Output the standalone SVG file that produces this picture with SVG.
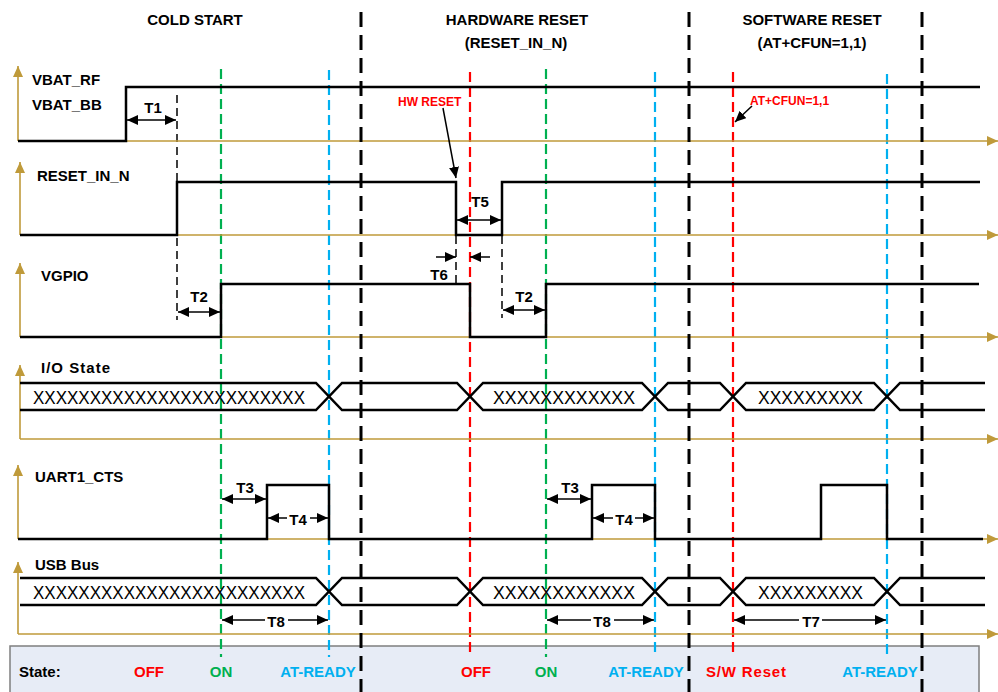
<svg xmlns="http://www.w3.org/2000/svg" width="998" height="692" viewBox="0 0 998 692">
<style>
text{font-family:"Liberation Sans",Arial,sans-serif}
.b{font-weight:bold;font-size:15px;fill:#000}
.c{text-anchor:middle}
.red{fill:#FF0000}
.grn{fill:#00B050}
.blu{fill:#00B0F0}
.sig{fill:none;stroke:#000;stroke-width:2.5}
.ax{fill:none;stroke:#BF9A3A;stroke-width:1.6}
.div{stroke:#000;stroke-width:3;stroke-dasharray:15 8;fill:none}
.gd{stroke:#00B050;stroke-width:2.2;stroke-dasharray:10 5}
.bd{stroke:#00B0F0;stroke-width:2.2;stroke-dasharray:10 5}
.rd{stroke:#FF0000;stroke-width:2.2;stroke-dasharray:10 5}
.kd{stroke:#000;stroke-width:1.5;stroke-dasharray:8 5}
.dim{stroke:#000;stroke-width:1.5;fill:none}
.xx{font-size:19px;fill:#000}
.sm{font-weight:bold;font-size:12px;fill:#FF0000}
</style>
<defs>
<marker id="ah" viewBox="0 0 11 10" refX="11" refY="5" markerWidth="11" markerHeight="10" markerUnits="userSpaceOnUse" orient="auto-start-reverse"><path d="M0,0L11,5L0,10z" fill="#000"/></marker>
<marker id="ga" viewBox="0 0 11 10" refX="11" refY="5" markerWidth="11" markerHeight="10" markerUnits="userSpaceOnUse" orient="auto"><path d="M0,0L11,5L0,10z" fill="#BF9A3A"/></marker>
</defs>
<rect width="998" height="692" fill="#fff"/>

<g id="state-bar">
<rect x="10" y="646" width="969" height="50" fill="#E7ECF6" stroke="#7F7F7F" stroke-width="1.5"/>
<text class="b" x="19" y="677">State:</text>
<text class="b c red" x="149" y="677">OFF</text>
<text class="b c grn" x="221" y="677">ON</text>
<text class="b c blu" x="318" y="677">AT-READY</text>
<text class="b c red" x="476" y="677">OFF</text>
<text class="b c grn" x="546" y="677">ON</text>
<text class="b c blu" x="646" y="677">AT-READY</text>
<text class="b c red" x="746" y="677" textLength="80">S/W Reset</text>
<text class="b c blu" x="880" y="677">AT-READY</text>
</g>

<g id="titles">
<text class="b c" x="195" y="25">COLD START</text>
<text class="b c" x="517" y="25">HARDWARE RESET</text>
<text class="b c" x="516" y="48">(RESET_IN_N)</text>
<text class="b c" x="812" y="25">SOFTWARE RESET</text>
<text class="b c" x="812" y="48">(AT+CFUN=1,1)</text>
</g>

<g id="guides">
<line class="gd" x1="221" y1="69" x2="221" y2="657"/>
<line class="bd" x1="329" y1="70" x2="329" y2="657"/>
<line class="rd" x1="470" y1="72" x2="470" y2="657"/>
<line class="gd" x1="546" y1="69" x2="546" y2="657"/>
<line class="bd" x1="655" y1="72" x2="655" y2="657"/>
<line class="rd" x1="733" y1="72" x2="733" y2="657"/>
<line class="bd" x1="887" y1="74" x2="887" y2="657"/>
<line class="kd" x1="177" y1="95" x2="177" y2="320"/>
<line class="kd" x1="456" y1="236" x2="456" y2="287"/>
<line class="kd" x1="502" y1="236" x2="502" y2="318"/>
</g>

<g id="sig-vbat">
<line class="ax" x1="18" y1="141" x2="18" y2="66" marker-end="url(#ga)"/>
<line class="ax" x1="18" y1="141" x2="998" y2="141" marker-end="url(#ga)"/>
<path class="sig" d="M18,141H126V87H980"/>
<text class="b" x="32" y="85">VBAT_RF</text>
<text class="b" x="32" y="110">VBAT_BB</text>
</g>

<g id="sig-reset">
<line class="ax" x1="20" y1="235" x2="20" y2="162" marker-end="url(#ga)"/>
<line class="ax" x1="20" y1="235" x2="998" y2="235" marker-end="url(#ga)"/>
<path class="sig" d="M20,235H177V182H456V235H502V182H980"/>
<text class="b" x="37" y="181">RESET_IN_N</text>
</g>

<g id="sig-vgpio">
<line class="ax" x1="20" y1="337" x2="20" y2="263" marker-end="url(#ga)"/>
<line class="ax" x1="20" y1="337" x2="998" y2="337" marker-end="url(#ga)"/>
<path class="sig" d="M20,337H221V284H470V337H546V284H979"/>
<text class="b" x="41" y="281">VGPIO</text>
</g>

<g id="sig-io">
<line class="ax" x1="20" y1="439" x2="20" y2="365" marker-end="url(#ga)"/>
<line class="ax" x1="20" y1="439" x2="998" y2="439" marker-end="url(#ga)"/>
<path class="sig" d="M20,383H316L342,410H457L483,383H642L668,410H720L746,383H874L900,410H985"/>
<path class="sig" d="M20,410H316L342,383H457L483,410H642L668,383H720L746,410H874L900,383H985"/>
<text class="b" x="41" y="373" textLength="69">I/O State</text>
<text class="xx" x="33" y="404" textLength="272" lengthAdjust="spacingAndGlyphs">XXXXXXXXXXXXXXXXXXXXXXXX</text>
<text class="xx" x="493" y="404" textLength="142" lengthAdjust="spacingAndGlyphs">XXXXXXXXXXXX</text>
<text class="xx" x="758" y="404" textLength="105" lengthAdjust="spacingAndGlyphs">XXXXXXXXX</text>
</g>

<g id="sig-uart">
<line class="ax" x1="18" y1="539" x2="18" y2="465" marker-end="url(#ga)"/>
<line class="ax" x1="18" y1="539" x2="998" y2="539" marker-end="url(#ga)"/>
<path class="sig" d="M18,539H267V485H329V539H592V485H655V539H821V485H887V539H983"/>
<text class="b" x="35" y="482">UART1_CTS</text>
</g>

<g id="sig-usb">
<line class="ax" x1="18" y1="634" x2="18" y2="562" marker-end="url(#ga)"/>
<line class="ax" x1="18" y1="634" x2="998" y2="634" marker-end="url(#ga)"/>
<path class="sig" d="M20,578H316L342,605H457L483,578H642L668,605H720L746,578H874L900,605H985"/>
<path class="sig" d="M20,605H316L342,578H457L483,605H642L668,578H720L746,605H874L900,578H985"/>
<text class="b" x="35" y="570">USB Bus</text>
<text class="xx" x="33" y="599" textLength="272" lengthAdjust="spacingAndGlyphs">XXXXXXXXXXXXXXXXXXXXXXXX</text>
<text class="xx" x="493" y="599" textLength="142" lengthAdjust="spacingAndGlyphs">XXXXXXXXXXXX</text>
<text class="xx" x="758" y="599" textLength="105" lengthAdjust="spacingAndGlyphs">XXXXXXXXX</text>
</g>

<g id="dividers">
<line class="div" x1="361" y1="12" x2="361" y2="692"/>
<line class="div" x1="689" y1="12" x2="689" y2="692"/>
<line class="div" x1="922" y1="12" x2="922" y2="692"/>
</g>

<g id="connectors">
<line class="dim" x1="127" y1="120" x2="176" y2="120" marker-start="url(#ah)" marker-end="url(#ah)"/>
<text class="b c" x="153" y="113">T1</text>
<line class="dim" x1="178" y1="312" x2="220" y2="312" marker-start="url(#ah)" marker-end="url(#ah)"/>
<text class="b c" x="199" y="302">T2</text>
<line class="dim" x1="503" y1="310" x2="545" y2="310" marker-start="url(#ah)" marker-end="url(#ah)"/>
<text class="b c" x="524" y="302">T2</text>
<line class="dim" x1="457" y1="220" x2="501" y2="220" marker-start="url(#ah)" marker-end="url(#ah)"/>
<text class="b c" x="480" y="207">T5</text>
<line class="dim" x1="436" y1="257" x2="456" y2="257" marker-end="url(#ah)"/>
<line class="dim" x1="490" y1="257" x2="470" y2="257" marker-end="url(#ah)"/>
<text class="b c" x="439" y="280">T6</text>
<line class="dim" x1="222" y1="499" x2="266" y2="499" marker-start="url(#ah)" marker-end="url(#ah)"/>
<text class="b c" x="245" y="493">T3</text>
<line class="dim" x1="547" y1="499" x2="591" y2="499" marker-start="url(#ah)" marker-end="url(#ah)"/>
<text class="b c" x="570" y="493">T3</text>
<line class="dim" x1="268" y1="518" x2="287" y2="518" marker-start="url(#ah)"/>
<line class="dim" x1="310" y1="518" x2="328" y2="518" marker-end="url(#ah)"/>
<text class="b c" x="298" y="525">T4</text>
<line class="dim" x1="593" y1="518" x2="613" y2="518" marker-start="url(#ah)"/>
<line class="dim" x1="635" y1="518" x2="654" y2="518" marker-end="url(#ah)"/>
<text class="b c" x="624" y="525">T4</text>
<line class="dim" x1="222" y1="620" x2="265" y2="620" marker-start="url(#ah)"/>
<line class="dim" x1="288" y1="620" x2="328" y2="620" marker-end="url(#ah)"/>
<text class="b c" x="276" y="627">T8</text>
<line class="dim" x1="547" y1="620" x2="591" y2="620" marker-start="url(#ah)"/>
<line class="dim" x1="614" y1="620" x2="654" y2="620" marker-end="url(#ah)"/>
<text class="b c" x="602" y="627">T8</text>
<line class="dim" x1="734" y1="620" x2="799" y2="620" marker-start="url(#ah)"/>
<line class="dim" x1="822" y1="620" x2="886" y2="620" marker-end="url(#ah)"/>
<text class="b c" x="811" y="627">T7</text>
<line class="dim" x1="443" y1="108" x2="456" y2="178" marker-end="url(#ah)"/>
<text class="sm" x="398" y="106">HW RESET</text>
<line class="dim" x1="752" y1="106" x2="735" y2="122" marker-end="url(#ah)"/>
<text class="sm" x="750" y="105" font-size="12.5">AT+CFUN=1,1</text>
</g>
</svg>
